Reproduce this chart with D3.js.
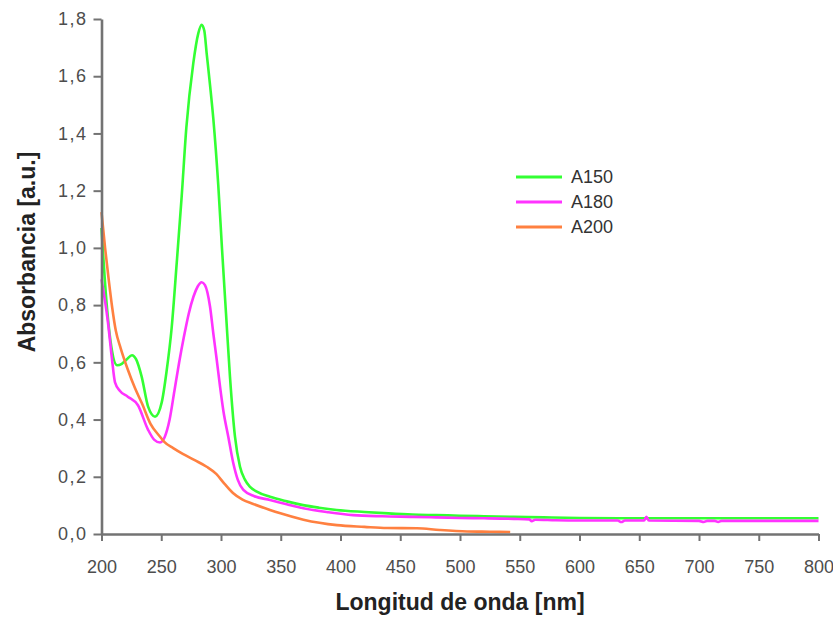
<!DOCTYPE html>
<html>
<head>
<meta charset="utf-8">
<script src="https://cdn.jsdelivr.net/npm/d3@7"></script>
<style>
  body { margin: 0; background: #fff; }
  svg text { font-family: Arial, "Liberation Sans", sans-serif; }
</style>
</head>
<body>
<div id="chart"></div>
<script>
// A150 (green)
var a150Nm  = [200, 204, 208.8, 213, 217, 221, 225.5, 229, 233.6, 239, 244.8, 250.4, 254.5, 258.7, 263, 267.1, 271, 276.8, 281, 283.8, 286, 288, 290.8, 293.6, 297.7, 300.8, 304.2, 307.5, 311.7, 315.9, 320, 324.3, 330, 341, 355, 368.7, 382, 396.8, 420, 440, 460, 480, 500, 520, 545, 570, 600, 650, 700, 750, 800];
var a150Abs = [1.07, 0.82, 0.64, 0.59, 0.595, 0.61, 0.625, 0.61, 0.55, 0.445, 0.41, 0.46, 0.57, 0.72, 0.95, 1.18, 1.42, 1.645, 1.75, 1.78, 1.76, 1.68, 1.57, 1.45, 1.22, 1.0, 0.77, 0.55, 0.34, 0.235, 0.19, 0.165, 0.148, 0.13, 0.114, 0.101, 0.092, 0.084, 0.077, 0.072, 0.068, 0.066, 0.064, 0.062, 0.06, 0.058, 0.056, 0.055, 0.055, 0.055, 0.055];

// A180 (magenta)
var a180Nm  = [200, 205.4, 208.8, 211.3, 215.5, 222, 230.5, 238.9, 244, 249, 253, 257, 261, 265, 269, 273, 277, 280.5, 283.8, 286.6, 290.8, 293.6, 296.4, 299.2, 302, 306.1, 310.3, 314, 318.7, 328, 341, 355, 368.9, 390, 410.5, 435, 460.7, 480, 500, 520, 545, 558, 560, 563, 580, 600, 632, 635, 638, 654, 656, 658, 700, 704, 707, 713, 716, 719, 750, 800];
var a180Abs = [0.89, 0.74, 0.61, 0.53, 0.50, 0.48, 0.45, 0.365, 0.33, 0.32, 0.34, 0.40, 0.50, 0.60, 0.69, 0.77, 0.83, 0.865, 0.88, 0.87, 0.795, 0.70, 0.61, 0.515, 0.43, 0.34, 0.247, 0.19, 0.154, 0.132, 0.119, 0.104, 0.09, 0.076, 0.066, 0.062, 0.06, 0.058, 0.056, 0.055, 0.053, 0.051, 0.045, 0.05, 0.048, 0.047, 0.047, 0.042, 0.047, 0.047, 0.06, 0.047, 0.046, 0.042, 0.046, 0.046, 0.042, 0.046, 0.046, 0.046];

// A200 (orange)
var a200Nm  = [200, 203, 206, 209, 212, 216, 222, 228, 234, 241, 249, 253, 260, 268, 278, 288, 296, 303, 310, 318, 327, 341, 349, 369, 397, 420, 439, 464, 483, 506, 525, 542];
var a200Abs = [1.125, 1.0, 0.89, 0.79, 0.71, 0.65, 0.575, 0.51, 0.455, 0.385, 0.34, 0.32, 0.30, 0.28, 0.258, 0.235, 0.21, 0.175, 0.143, 0.12, 0.105, 0.084, 0.073, 0.05, 0.031, 0.025, 0.021, 0.02, 0.014, 0.009, 0.008, 0.007];

var seriesNames  = ["A150", "A180", "A200"];
var seriesColors = ["#33ff33", "#ff33ff", "#ff8040"];

var xTicks = [200, 250, 300, 350, 400, 450, 500, 550, 600, 650, 700, 750, 800];
var yTicks = [0, 0.2, 0.4, 0.6, 0.8, 1.0, 1.2, 1.4, 1.6, 1.8];

var width = 833, height = 619;
var axisColor = "#737373";

var svg = d3.select("#chart").append("svg")
  .attr("width", width)
  .attr("height", height);

var x = d3.scaleLinear().domain([200, 800]).range([101.5, 818.5]);
var y = d3.scaleLinear().domain([0, 1.8]).range([534, 19]);

var commaFmt = function(d) { return d3.format(".1f")(d).replace(".", ","); };

var series = [
  { name: seriesNames[0], color: seriesColors[0], nm: a150Nm, abs: a150Abs },
  { name: seriesNames[1], color: seriesColors[1], nm: a180Nm, abs: a180Abs },
  { name: seriesNames[2], color: seriesColors[2], nm: a200Nm, abs: a200Abs }
];

var line = d3.line()
  .x(function(d) { return x(d[0]); })
  .y(function(d) { return y(d[1]); })
  .curve(d3.curveMonotoneX);

// curves
series.forEach(function(s) {
  var pts = s.nm.map(function(n, i) { return [n, s.abs[i]]; });
  svg.append("path")
    .datum(pts)
    .attr("fill", "none")
    .attr("stroke", s.color)
    .attr("stroke-width", 2.6)
    .attr("stroke-linejoin", "round")
    .attr("d", line);
});

// axes
var xAxis = d3.axisBottom(x).tickValues(xTicks).tickSize(7).tickSizeOuter(0).tickPadding(19)
  .tickFormat(d3.format("d"));
var yAxis = d3.axisLeft(y).tickValues(yTicks).tickSize(8).tickSizeOuter(0).tickPadding(6)
  .tickFormat(commaFmt);

var gx = svg.append("g").attr("transform", "translate(0," + y(0) + ")").call(xAxis);
var gy = svg.append("g").attr("transform", "translate(" + x(200) + ",0)").call(yAxis);

[gx, gy].forEach(function(g) {
  g.select(".domain").attr("stroke", axisColor).attr("stroke-width", 2.6);
  g.selectAll(".tick line").attr("stroke", axisColor).attr("stroke-width", 2);
  g.selectAll(".tick text")
    .attr("fill", "#4d4d4d")
    .style("font-size", "18px")
    .style("font-family", "Arial, 'Liberation Sans', sans-serif");
});
gy.selectAll(".tick text").style("letter-spacing", "1.5px");

// axis titles
svg.append("text")
  .attr("x", 460)
  .attr("y", 610)
  .attr("text-anchor", "middle")
  .attr("fill", "#222")
  .style("font-size", "23px")
  .style("font-weight", "bold")
  .text("Longitud de onda [nm]");

svg.append("text")
  .attr("transform", "translate(35,252) rotate(-90)")
  .attr("text-anchor", "middle")
  .attr("fill", "#222")
  .style("font-size", "23px")
  .style("font-weight", "bold")
  .text("Absorbancia [a.u.]");

// legend
var legend = svg.append("g").attr("transform", "translate(516,177)");
series.forEach(function(s, i) {
  var g = legend.append("g").attr("transform", "translate(0," + (i * 25) + ")");
  g.append("line")
    .attr("x1", 0).attr("x2", 46)
    .attr("y1", 0).attr("y2", 0)
    .attr("stroke", s.color)
    .attr("stroke-width", 3);
  g.append("text")
    .attr("x", 55)
    .attr("y", 0)
    .attr("dy", "0.36em")
    .attr("fill", "#333")
    .style("font-size", "18px")
    .text(s.name);
});
</script>
</body>
</html>
